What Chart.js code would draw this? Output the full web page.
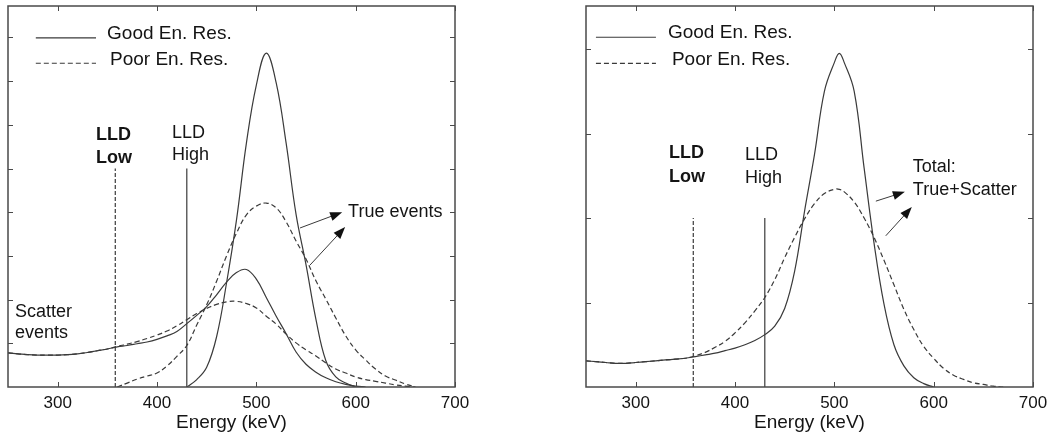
<!DOCTYPE html>
<html>
<head>
<meta charset="utf-8">
<script src="https://cdn.jsdelivr.net/npm/chart.js@4.4.1/dist/chart.umd.min.js"></script>
<style>
  html, body { margin: 0; padding: 0; background: #fff; }
  #wrap { position: relative; width: 1061px; height: 434px; }
  .box { position: absolute; top: 0; height: 434px; }
</style>
</head>
<body>
<div id="wrap">
  <div class="box" style="left:0;width:540px;"><canvas id="leftChart"></canvas></div>
  <div class="box" style="left:540px;width:521px;"><canvas id="rightChart"></canvas></div>
</div>
<script>
// Energy spectra (arbitrary count units)
const energyL = [250, 260, 270, 280, 290, 300, 310, 320, 330, 340, 350, 360, 370, 380, 390, 400,
  410, 420, 430, 440, 450, 460, 470, 480, 490, 500, 510, 520, 530, 540, 550, 560, 570, 580, 590,
  600, 610, 620, 630, 640, 650, 660, 670, 680, 690, 700];

const goodTrueL = [null, null, null, null, null, null, null, null, null, null, null, null, null, null,
  null, null, null, null, 0, 0.17, 0.45, 1.15, 2.38, 3.82, 5.58, 6.91, 7.64, 6.96, 5.58, 3.95, 2.80,
  1.55, 0.60, 0.23, 0.09, 0, null, null, null, null, null, null, null, null, null, null];

const poorTrueL = [null, null, null, null, null, null, null, null, null, null, null, 0, 0.09, 0.18,
  0.25, 0.32, 0.48, 0.70, 0.95, 1.42, 1.88, 2.42, 3.00, 3.52, 3.94, 4.14, 4.21, 4.10, 3.78, 3.34,
  2.93, 2.43, 2.01, 1.58, 1.17, 0.85, 0.62, 0.41, 0.25, 0.16, 0.07, 0, null, null, null, null];

const goodScatterL = [0.78, 0.76, 0.74, 0.73, 0.73, 0.73, 0.74, 0.76, 0.79, 0.83, 0.87, 0.92, 0.95,
  0.99, 1.03, 1.09, 1.17, 1.27, 1.45, 1.64, 1.84, 2.11, 2.40, 2.62, 2.69, 2.47, 2.05, 1.62, 1.22,
  0.80, 0.52, 0.34, 0.21, 0.12, 0.06, 0.02, 0, null, null, null, null, null, null, null, null, null];

const poorScatterL = [0.78, 0.76, 0.74, 0.73, 0.73, 0.73, 0.74, 0.76, 0.79, 0.83, 0.87, 0.93, 0.98,
  1.04, 1.11, 1.19, 1.28, 1.40, 1.54, 1.68, 1.80, 1.89, 1.95, 1.96, 1.91, 1.81, 1.62, 1.44, 1.21,
  1.01, 0.85, 0.71, 0.55, 0.41, 0.32, 0.23, 0.17, 0.13, 0.09, 0.05, 0.02, 0, null, null, null, null];

const energyR = [250, 260, 270, 280, 290, 300, 310, 320, 330, 340, 350, 360, 370, 380, 390, 400,
  410, 420, 430, 440, 450, 460, 470, 480, 490, 500, 505, 510, 520, 530, 540, 550, 560, 570, 580,
  590, 600, 610, 620, 630, 640, 650, 660, 670, 680, 690, 700];

const goodTotalR = [0.31, 0.30, 0.29, 0.28, 0.28, 0.29, 0.30, 0.31, 0.32, 0.33, 0.34, 0.36, 0.38,
  0.40, 0.43, 0.46, 0.50, 0.55, 0.62, 0.72, 0.93, 1.37, 2.08, 2.75, 3.50, 3.84, 3.95, 3.84, 3.50,
  2.59, 1.70, 0.98, 0.50, 0.25, 0.11, 0.04, 0, null, null, null, null, null, null, null, null, null, null];

const poorTotalR = [0.31, 0.30, 0.29, 0.28, 0.28, 0.29, 0.30, 0.31, 0.32, 0.33, 0.34, 0.37, 0.41,
  0.47, 0.54, 0.64, 0.76, 0.90, 1.06, 1.27, 1.53, 1.77, 1.99, 2.17, 2.29, 2.34, 2.34, 2.31, 2.19,
  2.00, 1.77, 1.50, 1.21, 0.92, 0.68, 0.48, 0.34, 0.22, 0.14, 0.09, 0.05, 0.03, 0.01, 0, null, null, null];

// Lower level discriminator settings (keV) and drawn line heights
const lldEnergy = [358, 430];
const lldTopL = 5.0;
const lldTopR = 2.0;

const INK = '#3a3a3a';
const TXT = '#141414';
const FONT = '"Liberation Sans", Arial, sans-serif';

function pts(xs, ys) {
  return xs.map(function(x, i) { return { x: x, y: ys[i] }; });
}

function curve(xs, ys, dashed) {
  return {
    data: pts(xs, ys),
    borderColor: INK,
    borderWidth: 1.2,
    borderDash: dashed ? [5, 3] : [],
    pointRadius: 0,
    tension: 0.4,
    spanGaps: false,
    fill: false
  };
}

function vline(x, top, dashed) {
  return {
    data: [{ x: x, y: 0 }, { x: x, y: top }],
    borderColor: INK,
    borderWidth: 1.2,
    borderDash: dashed ? [4, 2] : [],
    pointRadius: 0,
    tension: 0,
    fill: false
  };
}

// frame and inward tick marks
const framePlugin = {
  id: 'frame',
  afterDatasetsDraw: function(chart) {
    const ctx = chart.ctx, a = chart.chartArea;
    const xs = chart.scales.x, ys = chart.scales.y;
    ctx.save();
    ctx.strokeStyle = '#4a4a4a';
    ctx.lineWidth = 1.5;
    ctx.strokeRect(a.left, a.top, a.right - a.left, a.bottom - a.top);
    ctx.lineWidth = 1;
    ctx.beginPath();
    xs.ticks.forEach(function(t) {
      const px = Math.round(xs.getPixelForValue(t.value)) + 0.5;
      ctx.moveTo(px, a.bottom); ctx.lineTo(px, a.bottom - 5);
      ctx.moveTo(px, a.top); ctx.lineTo(px, a.top + 5);
    });
    ys.ticks.forEach(function(t) {
      if (t.value === 0) return;
      const py = Math.round(ys.getPixelForValue(t.value)) + 0.5;
      ctx.moveTo(a.left, py); ctx.lineTo(a.left + 5, py);
      ctx.moveTo(a.right, py); ctx.lineTo(a.right - 5, py);
    });
    ctx.stroke();
    ctx.restore();
  }
};

// legend, labels and arrows, placed in data coordinates
function notesPlugin(cfg) {
  return {
    id: 'notes',
    afterDatasetsDraw: function(chart) {
      const ctx = chart.ctx, xs = chart.scales.x, ys = chart.scales.y;
      const X = function(v) { return xs.getPixelForValue(v); };
      const Y = function(v) { return ys.getPixelForValue(v); };
      ctx.save();
      ctx.strokeStyle = INK;
      ctx.fillStyle = TXT;
      ctx.textBaseline = 'middle';
      ctx.textAlign = 'left';

      cfg.legend.forEach(function(l) {
        ctx.lineWidth = 1.2;
        ctx.setLineDash(l.dashed ? [5, 3] : []);
        ctx.beginPath();
        ctx.moveTo(X(l.x0), Y(l.ly));
        ctx.lineTo(X(l.x1), Y(l.ly));
        ctx.stroke();
        ctx.setLineDash([]);
        ctx.font = '19px ' + FONT;
        ctx.fillText(l.text, X(l.tx), Y(l.ty));
      });

      cfg.labels.forEach(function(t) {
        ctx.font = (t.bold ? 'bold ' : '') + '18px ' + FONT;
        ctx.fillText(t.text, X(t.x), Y(t.y));
      });

      cfg.arrows.forEach(function(ar) {
        const x0 = X(ar[0]), y0 = Y(ar[1]), x1 = X(ar[2]), y1 = Y(ar[3]);
        const ang = Math.atan2(y1 - y0, x1 - x0);
        const c = Math.cos(ang), s = Math.sin(ang);
        ctx.lineWidth = 1;
        ctx.beginPath();
        ctx.moveTo(x0, y0);
        ctx.lineTo(x1 - 8 * c, y1 - 8 * s);
        ctx.stroke();
        ctx.beginPath();
        ctx.moveTo(x1, y1);
        ctx.lineTo(x1 - 12 * c + 4.5 * s, y1 - 12 * s - 4.5 * c);
        ctx.lineTo(x1 - 12 * c - 4.5 * s, y1 - 12 * s + 4.5 * c);
        ctx.closePath();
        ctx.fillStyle = '#111';
        ctx.fill();
        ctx.fillStyle = TXT;
      });
      ctx.restore();
    }
  };
}

function baseOptions(yMax, padRight, padLeft) {
  return {
    responsive: true,
    maintainAspectRatio: false,
    animation: false,
    events: [],
    layout: { padding: { left: padLeft, right: padRight, top: 6, bottom: 0 } },
    plugins: { legend: { display: false }, tooltip: { enabled: false } },
    scales: {
      x: {
        type: 'linear', min: 250, max: 700,
        ticks: { stepSize: 100, includeBounds: false, color: TXT, font: { family: FONT, size: 17 }, padding: 6, maxRotation: 0 },
        grid: { drawOnChartArea: false, drawTicks: false },
        border: { display: false },
        title: { display: true, text: 'Energy (keV)', color: TXT, font: { family: FONT, size: 19 }, padding: { top: 0, bottom: 0 } },
        afterFit: function(s) { s.height = 47; }
      },
      y: {
        type: 'linear', min: 0, max: yMax,
        ticks: { display: false, stepSize: 1, includeBounds: false },
        grid: { drawOnChartArea: false, drawTicks: false },
        border: { display: false },
        afterFit: function(s) { s.width = 0; }
      }
    }
  };
}

// Left panel: true and scatter components separately
new Chart(document.getElementById('leftChart'), {
  type: 'line',
  data: {
    datasets: [
      curve(energyL, goodScatterL, false),
      curve(energyL, poorScatterL, true),
      curve(energyL, goodTrueL, false),
      curve(energyL, poorTrueL, true),
      vline(lldEnergy[0], lldTopL, true),
      vline(lldEnergy[1], lldTopL, false)
    ]
  },
  options: baseOptions(8.72, 85, 8),
  plugins: [framePlugin, notesPlugin({
    legend: [
      { x0: 278, x1: 338.6, ly: 7.99, tx: 349.7, ty: 8.08, text: 'Good En. Res.', dashed: false },
      { x0: 278, x1: 338.6, ly: 7.41, tx: 352.7, ty: 7.48, text: 'Poor En. Res.', dashed: true }
    ],
    labels: [
      { text: 'LLD', x: 338.6, y: 5.77, bold: true },
      { text: 'Low', x: 338.6, y: 5.24, bold: true },
      { text: 'LLD', x: 415, y: 5.81, bold: false },
      { text: 'High', x: 415, y: 5.31, bold: false },
      { text: 'True events', x: 592.4, y: 4.0, bold: false },
      { text: 'Scatter', x: 257, y: 1.72, bold: false },
      { text: 'events', x: 257, y: 1.24, bold: false }
    ],
    arrows: [
      [544, 3.64, 586.4, 4.0],
      [554, 2.79, 589.4, 3.66]
    ]
  })]
});

// Right panel: total (true + scatter)
new Chart(document.getElementById('rightChart'), {
  type: 'line',
  data: {
    datasets: [
      curve(energyR, goodTotalR, false),
      curve(energyR, poorTotalR, true),
      vline(lldEnergy[0], lldTopR, true),
      vline(lldEnergy[1], lldTopR, false)
    ]
  },
  options: baseOptions(4.51, 28, 46),
  plugins: [framePlugin, notesPlugin({
    legend: [
      { x0: 260, x1: 320.4, ly: 4.14, tx: 332.5, ty: 4.19, text: 'Good En. Res.', dashed: false },
      { x0: 260, x1: 320.4, ly: 3.83, tx: 336.5, ty: 3.87, text: 'Poor En. Res.', dashed: true }
    ],
    labels: [
      { text: 'LLD', x: 333.5, y: 2.77, bold: true },
      { text: 'Low', x: 333.5, y: 2.49, bold: true },
      { text: 'LLD', x: 410, y: 2.75, bold: false },
      { text: 'High', x: 410, y: 2.47, bold: false },
      { text: 'Total:', x: 579, y: 2.60, bold: false },
      { text: 'True+Scatter', x: 579, y: 2.33, bold: false }
    ],
    arrows: [
      [541.8, 2.20, 571, 2.31],
      [551.8, 1.79, 578, 2.13]
    ]
  })]
});
</script>
</body>
</html>
